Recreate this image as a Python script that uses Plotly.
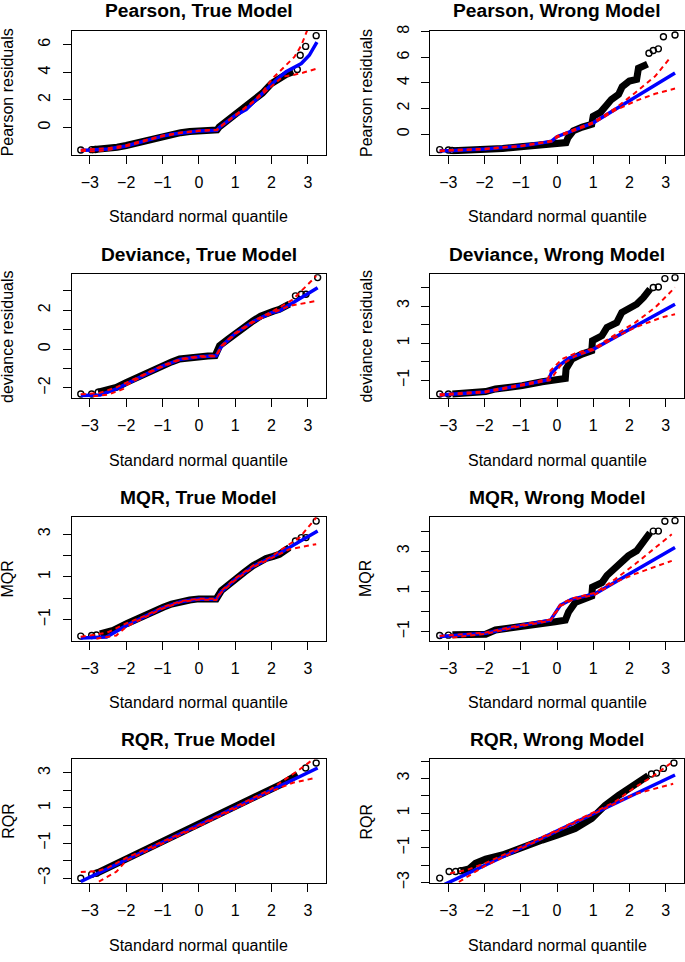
import plotly.graph_objects as go

# ---------------- data ----------------
titles = ["Pearson, True Model", "Pearson, Wrong Model",
          "Deviance, True Model", "Deviance, Wrong Model",
          "MQR, True Model", "MQR, Wrong Model",
          "RQR, True Model", "RQR, Wrong Model"]
ylabels = ["Pearson residuals", "Pearson residuals",
           "deviance residuals", "deviance residuals",
           "MQR", "MQR", "RQR", "RQR"]
xlabel = "Standard normal quantile"

x_tickvals = [-3, -2, -1, 0, 1, 2, 3]
x_ticktext = ["\u22123", "\u22122", "\u22121", "0", "1", "2", "3"]

y_ranges = [[-1.96, 7.02], [-1.6, 8.08], [-2.53, 3.85], [-1.97, 4.71],
            [-1.99, 3.81], [-1.46, 4.71], [-3.28, 3.78], [-3.03, 4.11]]
y_tickvals = [[0, 2, 4, 6], [0, 2, 4, 6, 8], [-2, -1, 0, 1, 2, 3], [-1, 0, 1, 2, 3, 4],
              [-1, 0, 1, 2, 3], [-1, 0, 1, 2, 3, 4], [-3, -2, -1, 0, 1, 2, 3],
              [-3, -2, -1, 0, 1, 2, 3, 4]]
y_ticktext = [["0", "2", "4", "6"], ["0", "2", "4", "6", "8"],
              ["\u22122", "", "0", "", "2", ""], ["\u22121", "", "1", "", "3", ""],
              ["\u22121", "", "1", "", "3"], ["\u22121", "", "1", "", "3", ""],
              ["\u22123", "", "\u22121", "", "1", "", "3"],
              ["\u22123", "", "\u22121", "", "1", "", "3", ""]]

# Panel 1: Pearson, True
p1_band_x = [-2.95, -2.7, -2.5, -2.25, -2.0, -1.75, -1.5, -1.25, -1.0, -0.75, -0.5, -0.25, 0.0, 0.25, 0.5, 0.56, 0.75, 1.0, 1.25, 1.5, 1.75, 2.0, 2.2, 2.4, 2.6]
p1_band_y = [-1.6, -1.57, -1.52, -1.42, -1.3, -1.13, -0.95, -0.76, -0.6, -0.47, -0.37, -0.29, -0.23, -0.2, -0.17, 0.05, 0.45, 0.9, 1.35, 1.88, 2.5, 3.2, 3.6, 3.85, 4.05]
p1_pts_x = [-3.25, -2.95, -2.85, 2.71, 2.79, 2.94, 3.23]
p1_pts_y = [-1.62, -1.6, -1.59, 4.21, 5.24, 5.88, 6.66]
p1_blue_x = [-3.25, -2.8, -2.5, -2.0, -1.5, -1.25, -1.0, -0.75, -0.5, 0.0, 0.5, 0.57, 1.0, 1.3, 1.76, 2.13, 2.4, 2.63, 2.82, 3.04, 3.25]
p1_blue_y = [-1.67, -1.64, -1.56, -1.33, -0.97, -0.78, -0.62, -0.49, -0.39, -0.25, -0.19, 0.02, 0.88, 1.31, 2.5, 3.45, 4.04, 4.4, 4.64, 5.24, 6.19]
p1_up_x = [-3.25, -2.5, -2.0, -1.5, -1.0, -0.5, 0.0, 0.5, 0.57, 1.0, 1.5, 1.76, 2.04, 2.17, 2.4, 2.63, 2.82, 2.95, 3.05]
p1_up_y = [-1.6, -1.5, -1.27, -0.93, -0.58, -0.36, -0.22, -0.16, 0.05, 0.9, 1.9, 2.6, 3.6, 3.93, 4.52, 5.12, 5.95, 6.9, 7.5]
p1_lo_x = [-3.25, -2.8, -2.5, -2.0, -1.5, -1.0, -0.5, 0.0, 0.5, 0.57, 1.0, 1.5, 2.0, 2.31, 2.59, 2.86, 3.27]
p1_lo_y = [-1.7, -1.72, -1.62, -1.36, -0.99, -0.63, -0.4, -0.25, -0.19, 0.0, 0.85, 1.85, 3.0, 3.69, 3.81, 3.97, 4.29]

# Panel 2: Pearson, Wrong
p2_band_x = [-2.89, -2.5, -2.0, -1.5, -1.0, -0.5, -0.2, 0.0, 0.25, 0.3, 0.45, 0.7, 0.96, 1.0, 1.2, 1.35, 1.5, 1.7, 1.8, 2.0, 2.2, 2.25, 2.5]
p2_band_y = [-1.29, -1.27, -1.21, -1.12, -0.98, -0.8, -0.72, -0.7, -0.66, -0.3, 0.26, 0.55, 0.77, 1.4, 1.7, 2.2, 2.7, 3.1, 3.7, 4.15, 4.28, 5.15, 5.47]
p2_pts_x = [-3.24, -3.0, -2.9, 2.54, 2.66, 2.8, 2.94, 3.26]
p2_pts_y = [-1.21, -1.24, -1.27, 6.32, 6.53, 6.66, 7.61, 7.74]
p2_blue_x = [-3.24, -3.0, -2.0, -1.0, -0.5, -0.15, 0.0, 0.32, 0.7, 1.01, 2.0, 3.26]
p2_blue_y = [-1.3, -1.29, -1.16, -0.93, -0.72, -0.55, -0.2, 0.15, 0.55, 0.9, 2.6, 4.77]
p2_up_x = [-3.24, -2.0, -1.0, -0.5, -0.15, 0.0, 0.32, 0.7, 1.01, 1.6, 2.16, 2.71, 3.12]
p2_up_y = [-1.27, -1.14, -0.91, -0.7, -0.52, -0.15, 0.2, 0.6, 0.95, 2.0, 3.23, 4.52, 5.94]
p2_lo_x = [-3.24, -2.0, -1.0, -0.5, -0.15, 0.0, 0.32, 0.7, 1.01, 1.6, 2.16, 2.71, 3.26]
p2_lo_y = [-1.33, -1.18, -0.95, -0.74, -0.58, -0.25, 0.1, 0.5, 0.85, 1.85, 2.58, 3.15, 3.56]

# Panel 3: Deviance, True
p3_band_x = [-2.77, -2.54, -2.27, -1.99, -1.75, -1.53, -1.25, -0.98, -0.75, -0.53, -0.25, 0.0, 0.25, 0.45, 0.57, 0.8, 1.01, 1.25, 1.49, 1.7, 1.85, 2.05, 2.22, 2.49]
p3_band_y = [-2.22, -2.14, -1.97, -1.71, -1.5, -1.28, -1.06, -0.85, -0.66, -0.51, -0.43, -0.38, -0.36, -0.34, 0.17, 0.5, 0.82, 1.15, 1.45, 1.7, 1.85, 1.95, 2.05, 2.31]
p3_pts_x = [-3.25, -2.95, -2.77, 2.66, 2.82, 2.95, 3.27]
p3_pts_y = [-2.31, -2.31, -2.22, 2.74, 2.82, 2.82, 3.68]
p3_blue_x = [-3.25, -2.72, -2.27, -1.99, -1.5, -1.0, -0.5, 0.0, 0.48, 0.62, 1.0, 1.5, 2.0, 2.22, 2.59, 3.27]
p3_blue_y = [-2.39, -2.36, -2.05, -1.79, -1.3, -0.88, -0.52, -0.39, -0.34, 0.14, 0.8, 1.42, 1.88, 1.97, 2.39, 3.16]
p3_up_x = [-3.25, -2.72, -2.27, -1.99, -1.5, -1.0, -0.5, 0.0, 0.48, 0.62, 1.0, 1.5, 2.0, 2.22, 2.59, 2.95, 3.23]
p3_up_y = [-2.33, -2.25, -1.97, -1.72, -1.26, -0.85, -0.5, -0.37, -0.32, 0.17, 0.83, 1.45, 1.92, 2.14, 2.56, 3.25, 3.76]
p3_lo_x = [-2.91, -2.5, -2.08, -1.99, -1.5, -1.0, -0.5, 0.0, 0.48, 0.62, 1.0, 1.5, 2.0, 2.49, 3.23]
p3_lo_y = [-2.43, -2.35, -2.05, -1.86, -1.33, -0.9, -0.54, -0.41, -0.36, 0.11, 0.77, 1.39, 1.84, 2.22, 2.48]

# Panel 4: Deviance, Wrong
p4_band_x = [-2.89, -2.5, -1.97, -1.7, -1.3, -0.96, -0.41, -0.05, 0.23, 0.25, 0.41, 0.69, 0.96, 0.98, 1.24, 1.38, 1.65, 1.79, 1.97, 2.2, 2.39, 2.57]
p4_band_y = [-1.74, -1.7, -1.61, -1.47, -1.38, -1.29, -1.08, -0.97, -0.9, -0.39, 0.14, 0.41, 0.59, 1.13, 1.4, 1.85, 2.11, 2.65, 2.83, 3.1, 3.46, 3.91]
p4_pts_x = [-3.24, -3.0, 2.66, 2.8, 2.98, 3.26]
p4_pts_y = [-1.74, -1.74, 4.0, 4.03, 4.48, 4.53]
p4_blue_x = [-3.24, -2.0, -1.0, -0.23, -0.16, 0.0, 0.32, 1.01, 3.26]
p4_blue_y = [-1.79, -1.63, -1.27, -0.97, -0.62, -0.3, 0.18, 0.68, 3.1]
p4_up_x = [-3.24, -2.0, -1.0, -0.25, -0.18, 0.14, 0.5, 1.01, 1.6, 2.16, 2.71, 3.26]
p4_up_y = [-1.76, -1.6, -1.24, -0.93, -0.48, 0.14, 0.45, 0.72, 1.45, 2.11, 2.92, 4.0]
p4_lo_x = [-3.24, -2.0, -1.0, -0.2, -0.1, 0.1, 0.5, 1.01, 1.6, 2.16, 2.89, 3.26]
p4_lo_y = [-1.82, -1.66, -1.3, -1.0, -0.75, -0.2, 0.3, 0.64, 1.3, 1.85, 2.38, 2.56]

# Panel 5: MQR, True
p5_band_x = [-2.72, -2.36, -1.99, -1.72, -1.44, -1.2, -0.98, -0.75, -0.53, -0.25, 0.0, 0.25, 0.48, 0.62, 0.8, 1.01, 1.25, 1.49, 1.7, 1.85, 2.05, 2.22, 2.49]
p5_band_y = [-1.67, -1.5, -1.19, -0.96, -0.81, -0.6, -0.42, -0.27, -0.16, -0.08, -0.03, -0.02, -0.03, 0.36, 0.63, 0.9, 1.22, 1.52, 1.73, 1.86, 1.96, 2.06, 2.37]
p5_pts_x = [-3.25, -2.95, -2.82, 2.66, 2.82, 2.95, 3.23]
p5_pts_y = [-1.77, -1.74, -1.72, 2.68, 2.84, 2.84, 3.61]
p5_blue_x = [-3.25, -2.54, -1.99, -1.5, -1.0, -0.5, 0.0, 0.48, 0.62, 1.0, 1.5, 2.0, 2.22, 3.27]
p5_blue_y = [-1.86, -1.81, -1.27, -0.88, -0.45, -0.16, -0.04, -0.06, 0.31, 0.88, 1.5, 1.92, 2.11, 3.15]
p5_up_x = [-3.25, -2.54, -1.99, -1.5, -1.0, -0.5, 0.0, 0.48, 0.62, 1.0, 1.5, 2.0, 2.22, 2.77, 3.23]
p5_up_y = [-1.8, -1.62, -1.17, -0.84, -0.42, -0.14, -0.02, -0.03, 0.35, 0.92, 1.54, 1.95, 2.22, 2.84, 3.77]
p5_lo_x = [-2.82, -2.27, -1.99, -1.5, -1.0, -0.5, 0.0, 0.48, 0.62, 1.0, 1.5, 2.0, 2.49, 3.23]
p5_lo_y = [-1.89, -1.74, -1.32, -0.92, -0.48, -0.18, -0.06, -0.08, 0.28, 0.85, 1.46, 1.88, 2.29, 2.53]

# Panel 6: MQR, Wrong
p6_band_x = [-2.89, -2.5, -1.97, -1.7, -1.3, -0.96, -0.41, -0.05, 0.23, 0.32, 0.5, 0.69, 0.96, 0.98, 1.24, 1.38, 1.65, 1.79, 1.97, 2.2, 2.39, 2.57]
p6_band_y = [-1.16, -1.15, -1.13, -0.92, -0.84, -0.75, -0.59, -0.51, -0.43, -0.02, 0.44, 0.61, 0.77, 1.21, 1.43, 1.79, 2.2, 2.52, 2.77, 3.02, 3.51, 3.92]
p6_pts_x = [-3.24, -3.0, 2.66, 2.8, 2.98, 3.26]
p6_pts_y = [-1.2, -1.18, 4.0, 4.0, 4.49, 4.52]
p6_blue_x = [-3.24, -1.97, -1.0, -0.18, 0.09, 0.4, 1.06, 3.26]
p6_blue_y = [-1.25, -1.08, -0.7, -0.43, 0.31, 0.6, 0.89, 3.18]
p6_up_x = [-3.24, -1.97, -1.0, -0.18, 0.09, 0.4, 1.06, 1.6, 2.16, 2.71, 3.17]
p6_up_y = [-1.22, -1.05, -0.67, -0.4, 0.35, 0.64, 0.93, 1.6, 2.36, 3.18, 3.84]
p6_lo_x = [-2.89, -1.97, -1.0, -0.18, 0.09, 0.4, 1.06, 1.6, 2.16, 2.89, 3.17]
p6_lo_y = [-1.3, -1.11, -0.73, -0.46, 0.27, 0.56, 0.85, 1.45, 1.87, 2.36, 2.52]

# Panel 7: RQR, True
p7_band_x = [-2.82, -2.54, -2.25, -1.99, -1.5, -0.98, -0.5, 0.0, 0.5, 1.0, 1.5, 2.01, 2.25, 2.49, 2.72]
p7_band_y = [-2.72, -2.44, -2.15, -1.88, -1.4, -0.94, -0.45, 0.04, 0.53, 1.03, 1.55, 2.06, 2.33, 2.63, 2.91]
p7_pts_x = [-3.25, -2.95, -2.82, 2.94, 3.23]
p7_pts_y = [-3.0, -2.78, -2.72, 3.28, 3.56]
p7_blue_x = [-3.25, 3.27]
p7_blue_y = [-3.19, 3.28]
p7_up_x = [-3.25, -2.8, -2.5, -2.0, 0.0, 2.0, 2.77, 3.09, 3.2]
p7_up_y = [-2.65, -2.6, -2.4, -1.85, 0.02, 2.1, 3.19, 3.66, 3.85]
p7_lo_x = [-2.95, -2.82, -2.27, -2.0, 0.0, 2.0, 2.59, 3.23]
p7_lo_y = [-3.5, -3.28, -2.63, -2.0, -0.04, 1.96, 2.44, 2.72]

# Panel 8: RQR, Wrong
p8_band_x = [-2.66, -2.43, -2.25, -1.97, -1.51, -0.96, -0.41, 0.0, 0.5, 0.96, 1.33, 1.7, 2.06, 2.34, 2.52]
p8_band_y = [-2.32, -2.21, -1.89, -1.64, -1.41, -0.93, -0.55, -0.27, 0.11, 0.69, 1.45, 2.02, 2.5, 2.88, 3.16]
p8_pts_x = [-3.24, -2.98, -2.8, -2.66, 2.61, 2.75, 2.94, 3.23]
p8_pts_y = [-2.74, -2.36, -2.36, -2.32, 3.26, 3.31, 3.58, 3.89]
p8_blue_x = [-3.1, 3.26]
p8_blue_y = [-3.1, 3.2]
p8_up_x = [-2.95, -2.49, -2.0, 0.0, 1.6, 2.16, 2.61, 3.17]
p8_up_y = [-2.46, -2.27, -1.9, 0.02, 1.65, 2.5, 3.07, 3.92]
p8_lo_x = [-2.9, -2.76, -2.39, -2.0, 0.0, 1.5, 2.16, 3.21]
p8_lo_y = [-3.3, -3.03, -2.55, -2.05, -0.05, 1.45, 2.11, 2.69]

band_x = [p1_band_x, p2_band_x, p3_band_x, p4_band_x, p5_band_x, p6_band_x, p7_band_x, p8_band_x]
band_y = [p1_band_y, p2_band_y, p3_band_y, p4_band_y, p5_band_y, p6_band_y, p7_band_y, p8_band_y]
pts_x = [p1_pts_x, p2_pts_x, p3_pts_x, p4_pts_x, p5_pts_x, p6_pts_x, p7_pts_x, p8_pts_x]
pts_y = [p1_pts_y, p2_pts_y, p3_pts_y, p4_pts_y, p5_pts_y, p6_pts_y, p7_pts_y, p8_pts_y]
blue_x = [p1_blue_x, p2_blue_x, p3_blue_x, p4_blue_x, p5_blue_x, p6_blue_x, p7_blue_x, p8_blue_x]
blue_y = [p1_blue_y, p2_blue_y, p3_blue_y, p4_blue_y, p5_blue_y, p6_blue_y, p7_blue_y, p8_blue_y]
up_x = [p1_up_x, p2_up_x, p3_up_x, p4_up_x, p5_up_x, p6_up_x, p7_up_x, p8_up_x]
up_y = [p1_up_y, p2_up_y, p3_up_y, p4_up_y, p5_up_y, p6_up_y, p7_up_y, p8_up_y]
lo_x = [p1_lo_x, p2_lo_x, p3_lo_x, p4_lo_x, p5_lo_x, p6_lo_x, p7_lo_x, p8_lo_x]
lo_y = [p1_lo_y, p2_lo_y, p3_lo_y, p4_lo_y, p5_lo_y, p6_lo_y, p7_lo_y, p8_lo_y]

# ---------------- layout geometry (pixels) ----------------
W, H = 685, 962
col_l = [71.7, 430.3]
col_r = [326.0, 683.7]
row_t = [25.0, 271.7, 517.3, 762.7]
box_h = 125.5
FONT = "Liberation Sans, Arial, Helvetica, sans-serif"

fig = go.Figure()
annotations = []
layout_axes = {}

for i in range(8):
    r, c = divmod(i, 2)
    k = "" if i == 0 else str(i + 1)
    xa, ya = "x" + k, "y" + k
    L, R = col_l[c], col_r[c]
    T, B = row_t[r], row_t[r] + box_h

    fig.add_trace(go.Scatter(x=band_x[i], y=band_y[i], mode="lines",
                             line=dict(color="black", width=7),
                             xaxis=xa, yaxis=ya, showlegend=False, hoverinfo="skip"))
    fig.add_trace(go.Scatter(x=pts_x[i], y=pts_y[i], mode="markers",
                             marker=dict(symbol="circle-open", size=6, color="black",
                                         line=dict(width=1.4, color="black")),
                             xaxis=xa, yaxis=ya, showlegend=False, hoverinfo="skip",
                             cliponaxis=True))
    fig.add_trace(go.Scatter(x=blue_x[i], y=blue_y[i], mode="lines",
                             line=dict(color="#0000ff", width=3.5),
                             xaxis=xa, yaxis=ya, showlegend=False, hoverinfo="skip"))
    for xs, ys in ((up_x[i], up_y[i]), (lo_x[i], lo_y[i])):
        fig.add_trace(go.Scatter(x=xs, y=ys, mode="lines",
                                 line=dict(color="#ff0000", width=2, dash="5px,4px"),
                                 xaxis=xa, yaxis=ya, showlegend=False, hoverinfo="skip"))

    common = dict(showline=True, mirror=True, linecolor="black", linewidth=1,
                  ticks="outside", ticklen=8, tickwidth=1, tickcolor="black",
                  showgrid=False, zeroline=False,
                  tickfont=dict(family=FONT, size=16, color="black"))
    layout_axes["xaxis" + k] = dict(domain=[L / W, R / W], anchor=ya,
                                    range=[-3.5, 3.5], tickmode="array",
                                    tickvals=x_tickvals, ticktext=x_ticktext,
                                    tickangle=0, ticklabelstandoff=5, **common)
    layout_axes["yaxis" + k] = dict(domain=[1 - B / H, 1 - T / H], anchor=xa,
                                    range=y_ranges[i], tickmode="array",
                                    tickvals=y_tickvals[i], ticktext=y_ticktext[i],
                                    tickangle=-90, ticklabelstandoff=6, **common)

    cx = (L + R) / 2
    annotations.append(dict(text=titles[i], x=cx / W, y=1 - (T - 20) / H,
                            xref="paper", yref="paper", showarrow=False,
                            xanchor="center", yanchor="middle",
                            font=dict(family=FONT, size=19.2, color="black", weight="bold")))
    annotations.append(dict(text=xlabel, x=cx / W, y=1 - (B + 63) / H,
                            xref="paper", yref="paper", showarrow=False,
                            xanchor="center", yanchor="middle",
                            font=dict(family=FONT, size=16, color="black")))
    annotations.append(dict(text=ylabels[i], x=(L - 64) / W, y=1 - ((T + B) / 2) / H,
                            xref="paper", yref="paper", showarrow=False, textangle=-90,
                            xanchor="center", yanchor="middle",
                            font=dict(family=FONT, size=16, color="black")))

fig.update_layout(width=W, height=H, margin=dict(l=0, r=0, t=0, b=0),
                  paper_bgcolor="white", plot_bgcolor="white",
                  annotations=annotations, **layout_axes)

fig.write_html("out.html", config={"displayModeBar": False},
               post_script="document.body.style.margin='0';document.body.style.padding='0';")
